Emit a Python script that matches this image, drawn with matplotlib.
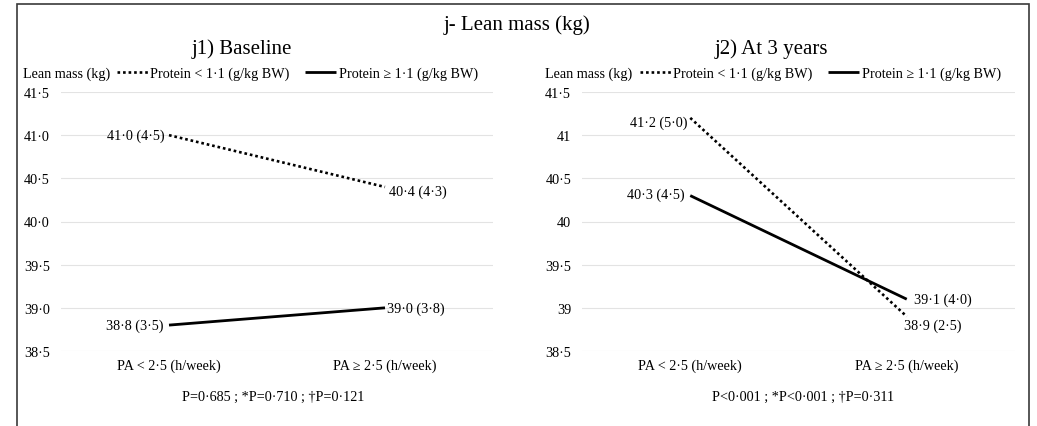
import matplotlib.pyplot as plt
from matplotlib.patches import Rectangle
from matplotlib.ticker import FuncFormatter, MultipleLocator

plt.rcParams['font.family'] = ['Liberation Serif', 'DejaVu Serif']

# categories and series
categories = ['PA < 2·5 (h/week)', 'PA ≥ 2·5 (h/week)']
series_names = ['Protein < 1·1 (g/kg BW)', 'Protein ≥ 1·1 (g/kg BW)']

# mean (SD) lean mass, kg
baseline_low_mean = [41.0, 40.4]
baseline_low_sd = [4.5, 4.3]
baseline_high_mean = [38.8, 39.0]
baseline_high_sd = [3.5, 3.8]

year3_low_mean = [41.2, 38.9]
year3_low_sd = [5.0, 2.5]
year3_high_mean = [40.3, 39.1]
year3_high_sd = [4.5, 4.0]

baseline_p = 'P=0·685 ; *P=0·710 ; †P=0·121'
year3_p = 'P<0·001 ; *P<0·001 ; †P=0·311'

W, H = 1037, 427
fig = plt.figure(figsize=(W / 100, H / 100), dpi=100)


def px(v):
    # pixels -> points
    return v * 0.72


def make_axes(x0, x1, ytop, ybot):
    return fig.add_axes([x0 / W, 1 - ybot / H, (x1 - x0) / W, (ybot - ytop) / H])


def fmt_label(m, sd):
    return f'{m:.1f} ({sd:.1f})'.replace('.', '·')


def draw_panel(ax, low_m, low_sd, high_m, high_sd, tickfmt, offsets):
    x = range(len(categories))
    l1, = ax.plot(x, low_m, color='black', lw=1.9, linestyle=(0, (1, 1.1)))
    l2, = ax.plot(x, high_m, color='black', lw=2.0, solid_capstyle='butt')
    for series, (ms, sds) in enumerate([(low_m, low_sd), (high_m, high_sd)]):
        for i, (m, sd) in enumerate(zip(ms, sds)):
            dx, dy = offsets[series][i]
            ax.annotate(fmt_label(m, sd), (i, m), xytext=(px(dx), px(dy)),
                        textcoords='offset points', fontsize=10.2,
                        ha='right' if i == 0 else 'left', va='center')
    ax.set_xlim(-0.5, 1.5)
    ax.set_ylim(38.5, 41.5)
    ax.yaxis.set_major_locator(MultipleLocator(0.5))
    ax.yaxis.set_major_formatter(FuncFormatter(tickfmt))
    ax.set_xticks(list(x))
    ax.set_xticklabels(categories)
    ax.tick_params(axis='both', length=0, labelsize=10.2)
    ax.tick_params(axis='y', pad=px(11))
    ax.tick_params(axis='x', pad=px(8))
    ax.yaxis.grid(True, color='#e3e3e3', lw=0.8)
    ax.set_axisbelow(True)
    for s in ax.spines.values():
        s.set_visible(False)
    return l1, l2


ax1 = make_axes(61, 493, 93, 352)
ax2 = make_axes(582, 1015, 93, 352)

h1 = draw_panel(ax1, baseline_low_mean, baseline_low_sd, baseline_high_mean, baseline_high_sd,
                lambda v, _: f'{v:.1f}'.replace('.', '·'),
                [[(-4, 0), (4, -4)], [(-5, 0), (2, 0)]])
h2 = draw_panel(ax2, year3_low_mean, year3_low_sd, year3_high_mean, year3_high_sd,
                lambda v, _: f'{v:g}'.replace('.', '·'),
                [[(-3, -4), (-3, -9)], [(-6, 1), (7, 0)]])

# legends with the y-axis title on the left
for ax, hs, x_title, x_leg in [(ax1, h1, 23, 117), (ax2, h2, 545, 640)]:
    fig.text(x_title / W, 1 - 74 / H, 'Lean mass (kg)', fontsize=10.2, ha='left', va='center')
    ax.legend(hs, series_names, ncol=2, frameon=False, fontsize=10.2,
              loc='center left', bbox_to_anchor=(x_leg / W, 1 - 74 / H),
              bbox_transform=fig.transFigure, borderpad=0, borderaxespad=0,
              handlelength=2.2, handletextpad=0.15, columnspacing=1.1)

# p-values under each panel
fig.text(273 / W, 1 - 397 / H, baseline_p, fontsize=10.2, ha='center', va='center')
fig.text(803 / W, 1 - 397 / H, year3_p, fontsize=10.2, ha='center', va='center')

# titles
fig.text(517 / W, 1 - 25 / H, 'j- Lean mass (kg)', fontsize=15, ha='center', va='center')
fig.text(242 / W, 1 - 49 / H, 'j1) Baseline', fontsize=15, ha='center', va='center')
fig.text(771 / W, 1 - 49 / H, 'j2) At 3 years', fontsize=15, ha='center', va='center')

# outer frame, open at the bottom
fig.add_artist(Rectangle((17 / W, -0.1), (1029 - 17) / W, 1.1 - 5 / H,
                         transform=fig.transFigure, fill=False, lw=1.2, ec='#3a3a3a'))

fig.savefig('out.png', dpi=100)
